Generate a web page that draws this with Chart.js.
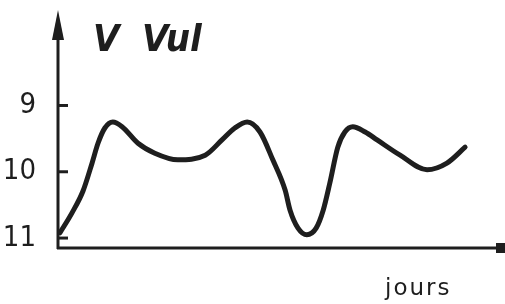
<!DOCTYPE html>
<html>
<head>
<meta charset="utf-8">
<script src="https://cdn.jsdelivr.net/npm/chart.js@4.4.1/dist/chart.umd.min.js"></script>
<style>
  html, body { margin: 0; padding: 0; background: #fff; }
  #wrap { width: 505px; height: 304px; }
</style>
</head>
<body>
<div id="wrap"><canvas id="c" width="505" height="304"></canvas></div>
<script>
// Light curve of V Vul (magnitude vs. days)
const days = [0.45, 3.17, 5.66, 7.7, 9.05, 10.6, 12.4, 14.5, 18.1, 21.9, 27.1, 33.3, 37.1, 40.0, 42.8, 45.7, 48.6, 51.4, 52.5, 54.3, 56.3, 58.4, 60.0, 61.5, 63.3, 64.9, 66.7, 69.5, 72.2, 77.4, 83.5, 88.0, 92.1];
const magnitudes = [10.92, 10.62, 10.29, 9.87, 9.57, 9.34, 9.25, 9.32, 9.57, 9.72, 9.82, 9.75, 9.52, 9.34, 9.25, 9.40, 9.82, 10.28, 10.58, 10.85, 10.95, 10.85, 10.58, 10.17, 9.63, 9.40, 9.32, 9.40, 9.52, 9.75, 9.97, 9.87, 9.63];
const yTickValues = [9, 10, 11];
const titleParts = ["V", "Vul"];
const xAxisLabel = "jours";

const INK = "#1e1e1e";

const axesPlugin = {
  id: "handAxes",
  afterDraw(chart) {
    const ctx = chart.ctx;
    const a = chart.chartArea;
    const y = chart.scales.y;
    ctx.save();
    ctx.strokeStyle = INK;
    ctx.fillStyle = INK;
    ctx.lineWidth = 3;
    ctx.lineCap = "butt";
    // y axis with arrow
    ctx.beginPath();
    ctx.moveTo(a.left, a.bottom + 1);
    ctx.lineTo(a.left, a.top + 20);
    ctx.stroke();
    ctx.beginPath();
    ctx.moveTo(a.left, a.top - 2);
    ctx.lineTo(a.left - 6, a.top + 28);
    ctx.lineTo(a.left + 6, a.top + 28);
    ctx.closePath();
    ctx.fill();
    // x axis
    ctx.beginPath();
    ctx.moveTo(a.left - 1, a.bottom);
    ctx.lineTo(a.right - 2, a.bottom);
    ctx.stroke();
    ctx.fillRect(a.right - 4, a.bottom - 5, 9, 10);
    // tick marks (inside)
    yTickValues.forEach(v => {
      const py = y.getPixelForValue(v);
      ctx.beginPath();
      ctx.moveTo(a.left, py);
      ctx.lineTo(a.left + 10, py);
      ctx.stroke();
    });
    // title
    ctx.font = "italic bold 38px 'DejaVu Sans Condensed', sans-serif";
    ctx.textBaseline = "alphabetic";
    ctx.textAlign = "left";
    ctx.fillText(titleParts[0], a.left + 35, 51);
    ctx.fillText(titleParts[1], a.left + 84, 51);
    // x label
    ctx.font = "23px 'DejaVu Sans', sans-serif";
    try { ctx.letterSpacing = "2px"; } catch (e) {}
    ctx.fillText(xAxisLabel, 385, 295);
    ctx.restore();
  }
};

new Chart(document.getElementById("c"), {
  type: "line",
  data: {
    datasets: [{
      data: days.map((d, i) => ({ x: d, y: magnitudes[i] })),
      borderColor: INK,
      borderWidth: 5,
      pointRadius: 0,
      cubicInterpolationMode: "monotone",
      borderJoinStyle: "round",
      borderCapStyle: "round",
      fill: false,
      clip: false
    }]
  },
  options: {
    responsive: false,
    animation: false,
    devicePixelRatio: 1,
    layout: { padding: { left: 0, top: 12, right: 5, bottom: 56 } },
    plugins: { legend: { display: false }, tooltip: { enabled: false }, title: { display: false } },
    scales: {
      x: { type: "linear", min: 0, max: 100, display: false },
      y: {
        type: "linear",
        reverse: true,
        min: 7.59,
        max: 11.15,
        grid: { display: false, drawTicks: false },
        border: { display: false },
        afterBuildTicks: s => { s.ticks = yTickValues.map(v => ({ value: v })); },
        afterFit: s => { s.width = 58; s.paddingTop = 0; s.paddingBottom = 0; },
        ticks: {
          color: INK,
          padding: 22,
          font: { family: "'DejaVu Sans Condensed', sans-serif", size: 29 }
        }
      }
    }
  },
  plugins: [axesPlugin]
});
</script>
</body>
</html>
